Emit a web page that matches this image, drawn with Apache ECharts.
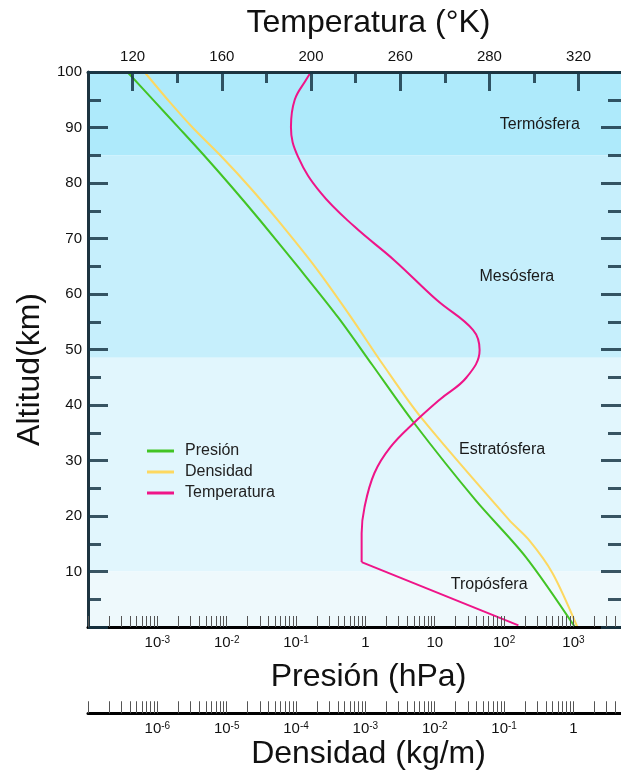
<!DOCTYPE html>
<html><head><meta charset="utf-8">
<script src="https://cdn.jsdelivr.net/npm/echarts@6/dist/echarts.min.js"></script>
<style>html,body{margin:0;padding:0;background:#fff}#c{width:621px;height:771px}</style>
</head><body><div id="c"></div>
<script>
// ---- data ----
const ALTITUDE_P = [0, 12.6, 22.9, 36.8, 47.2, 55.7, 64.7, 73.2, 79.1, 85, 89.9, 94.7, 100];
const PRESSURE_HPA = [1050, 206, 38.5, 5.0, 1.26, 0.41, 0.11, 0.0306, 0.0122, 0.0047, 0.00206, 0.00091, 0.00037];

const ALTITUDE_D = [0, 9.7, 15.7, 19.3, 37.8, 47.2, 55.7, 64.7, 73.2, 79.1, 84.9, 89.9, 94.7, 100];
const DENSITY = [1.14, 0.5, 0.228, 0.118, 6.3e-3, 1.81e-3, 6.3e-4, 1.93e-4, 5.53e-5, 2.2e-5, 8.2e-6, 3.27e-6, 1.48e-6, 6.52e-7];

const ALTITUDE_T_UPPER = [100, 98.6, 95, 90.1, 84.7, 78.2, 72.1, 66.1, 58.9, 53.5, 49.9, 45, 41, 36.8, 32.4, 27.7, 21.6, 16.9, 11.7];
const TEMPERATURE_UPPER = [200, 197.8, 192.7, 191.0, 194.2, 204.4, 219.6, 237.3, 256.4, 272.7, 275.6, 269.8, 257.8, 246.2, 235.6, 228.4, 224, 222.7, 222.7];
const ALTITUDE_T_LOWER = [11.7, 0.3];
const TEMPERATURE_LOWER = [222.7, 293];

const ZONE_NAMES = ['Termósfera', 'Mesósfera', 'Estratósfera', 'Tropósfera'];
const ZONE_BOTTOM = [85, 48.5, 10, 0];
const ZONE_TOP = [100, 85, 48.5, 10];
const ZONE_COLORS = ['#aeeafb', '#c6effc', '#e1f6fd', '#eef9fc'];
const ZONE_LABEL_P = [327, 153, 93.6, 61];
const ZONE_LABEL_ALT = [90.6, 63.1, 31.9, 7.6];

const TEMP_TICKS = [120, 160, 200, 240, 280, 320];
const TEMP_TICK_LABELS = ['120', '160', '200', '260', '280', '320'];
const TEMP_MINOR_TICKS = [140, 180, 220, 260, 300];

const P_MIN = 1e-4, P_MAX = 4853;
const D_MIN = 1e-7, D_MAX = 4.853;
const T_MIN = 100, T_MAX = 339;

// ---- helpers ----
const FONT = '"Liberation Sans", Arial, sans-serif';
function zip(xs, ys) { return xs.map((x, i) => [x, ys[i]]); }
function logTickPositions(lo, hi) {
  const out = [];
  for (let n = Math.floor(lo); n <= Math.ceil(hi); n++) {
    for (let k = 1; k <= 9; k++) {
      const v = n + Math.log10(k);
      if (v >= lo - 1e-9 && v <= hi + 1e-9) out.push(v);
    }
  }
  return out;
}
function powLabel(v) {
  const e = Math.round(Math.log10(v));
  if (e === 0) return '1';
  if (e === 1) return '10';
  return '10{sup|' + e + '}';
}
const richSup = {
  sup: { fontSize: 10, fontFamily: FONT, color: '#111', verticalAlign: 'top', lineHeight: 10, padding: [0, 0, 6, 0] }
};
const DARK = '#1d3440';
const TICK = 'rgba(25,55,70,0.85)';

const chart = echarts.init(document.getElementById('c'), null, { renderer: 'canvas' });

const option = {
  backgroundColor: '#ffffff',
  animation: false,
  textStyle: { fontFamily: FONT },
  grid: [
    { left: 88, right: -5, top: 72, bottom: 144 },
    { left: 88, right: -5, top: 713, height: 1 }
  ],
  legend: {
    data: ['Presión', 'Densidad', 'Temperatura'],
    orient: 'vertical', left: 147, top: 443, padding: 0,
    icon: 'rect', itemWidth: 27, itemHeight: 3, itemGap: 5,
    selectedMode: false,
    textStyle: { fontSize: 16, color: '#222', fontFamily: FONT, padding: [0, 0, 0, 6] }
  },
  xAxis: [
    { // 0 pressure (log)
      gridIndex: 0, type: 'log', logBase: 10, position: 'bottom', min: P_MIN, max: P_MAX, z: 5,
      axisLine: { show: true, onZero: false, lineStyle: { color: '#000', width: 3 } },
      axisTick: { show: false }, splitLine: { show: false },
      axisLabel: { showMinLabel: false, showMaxLabel: false, margin: 8, fontSize: 15, color: '#111', fontFamily: FONT, formatter: powLabel, rich: richSup },
      name: 'Presión (hPa)', nameLocation: 'middle', nameGap: 34,
      nameTextStyle: { fontSize: 32, color: '#111', fontFamily: FONT, padding: [0, 0, 0, 28] }
    },
    { // 1 pressure tick overlay (decade space)
      gridIndex: 0, type: 'value', position: 'bottom', min: Math.log10(P_MIN), max: Math.log10(P_MAX), z: 5,
      axisLine: { show: false, onZero: false }, axisLabel: { show: false }, splitLine: { show: false },
      axisTick: { show: true, inside: true, length: 11, customValues: logTickPositions(Math.log10(P_MIN), Math.log10(P_MAX)), lineStyle: { color: '#555', width: 1 } }
    },
    { // 2 temperature
      gridIndex: 0, type: 'value', position: 'top', min: T_MIN, max: T_MAX, z: 5,
      axisLine: { show: true, onZero: false, lineStyle: { color: DARK, width: 3 } },
      axisTick: { show: true, inside: true, length: 19, customValues: TEMP_TICKS, lineStyle: { color: TICK, width: 3 } },
      axisLabel: { customValues: TEMP_TICKS, margin: 8, fontSize: 15, color: '#111', fontFamily: FONT,
        formatter: v => TEMP_TICK_LABELS[TEMP_TICKS.indexOf(v)] },
      splitLine: { show: false },
      name: 'Temperatura (°K)', nameLocation: 'middle', nameGap: 33,
      nameTextStyle: { fontSize: 32, color: '#111', fontFamily: FONT, padding: [0, 0, 0, 28] }
    },
    { // 3 temperature minor ticks
      gridIndex: 0, type: 'value', position: 'top', min: T_MIN, max: T_MAX, z: 5,
      axisLine: { show: false, onZero: false }, axisLabel: { show: false }, splitLine: { show: false },
      axisTick: { show: true, inside: true, length: 11, customValues: TEMP_MINOR_TICKS, lineStyle: { color: TICK, width: 3 } }
    },
    { // 4 density data axis (hidden, same span as visible density axis)
      gridIndex: 0, type: 'log', logBase: 10, position: 'bottom', min: D_MIN, max: D_MAX, show: false
    },
    { // 5 density visible axis
      gridIndex: 1, type: 'log', logBase: 10, position: 'bottom', min: D_MIN, max: D_MAX, z: 5,
      axisLine: { show: true, onZero: false, lineStyle: { color: '#000', width: 3 } },
      axisTick: { show: false }, splitLine: { show: false },
      axisLabel: { showMinLabel: false, showMaxLabel: false, margin: 8, fontSize: 15, color: '#111', fontFamily: FONT, formatter: powLabel, rich: richSup },
      name: 'Densidad (kg/m)', nameLocation: 'middle', nameGap: 22,
      nameTextStyle: { fontSize: 32, color: '#111', fontFamily: FONT, padding: [0, 0, 0, 28] }
    },
    { // 6 density tick overlay
      gridIndex: 1, type: 'value', position: 'bottom', min: Math.log10(D_MIN), max: Math.log10(D_MAX), z: 5,
      axisLine: { show: false, onZero: false }, axisLabel: { show: false }, splitLine: { show: false },
      axisTick: { show: true, inside: true, length: 12, customValues: logTickPositions(Math.log10(D_MIN), Math.log10(D_MAX)), lineStyle: { color: '#555', width: 1 } }
    }
  ],
  yAxis: [
    { // 0 altitude
      gridIndex: 0, type: 'value', position: 'left', min: 0, max: 100, interval: 10, z: 5,
      axisLine: { show: true, onZero: false, lineStyle: { color: DARK, width: 3 } },
      axisTick: { show: true, inside: true, length: 20, lineStyle: { color: TICK, width: 3 } },
      minorTick: { show: true, splitNumber: 2, length: 13, lineStyle: { color: TICK, width: 3 } },
      axisLabel: { showMinLabel: false, margin: 6, fontSize: 15, color: '#111', fontFamily: FONT },
      splitLine: { show: false },
      name: 'Altitud(km)', nameLocation: 'middle', nameGap: 39, nameRotate: 90,
      nameTextStyle: { fontSize: 32, color: '#111', fontFamily: FONT, padding: [0, 40, 0, 0] }
    },
    { // 1 right-side ticks
      gridIndex: 0, type: 'value', position: 'right', min: 0, max: 100, interval: 10, z: 5,
      axisLine: { show: false, onZero: false }, axisLabel: { show: false }, splitLine: { show: false },
      axisTick: { show: true, inside: true, length: 20, lineStyle: { color: TICK, width: 3 } },
      minorTick: { show: true, splitNumber: 2, length: 13, lineStyle: { color: TICK, width: 3 } }
    },
    { gridIndex: 1, type: 'value', show: false, min: 0, max: 1 }
  ],
  series: [
    {
      name: 'Zonas', type: 'scatter', xAxisIndex: 0, yAxisIndex: 0, symbolSize: 0, z: 1, silent: true,
      itemStyle: { opacity: 1 },
      data: ZONE_NAMES.map((n, i) => ({ value: [ZONE_LABEL_P[i], ZONE_LABEL_ALT[i]], name: n })),
      label: { show: true, position: 'inside', formatter: p => p.name, fontSize: 16, color: '#1a1a1a', fontFamily: FONT, opacity: 1 },
      markArea: {
        silent: true,
        data: ZONE_NAMES.map((n, i) => [
          { yAxis: ZONE_BOTTOM[i], itemStyle: { color: ZONE_COLORS[i], opacity: 1 } },
          { yAxis: ZONE_TOP[i] }
        ])
      }
    },
    {
      name: 'Presión', type: 'line', xAxisIndex: 0, yAxisIndex: 0, showSymbol: false, symbol: 'none',
      smooth: 0.3, z: 3, color: '#42c424', lineStyle: { width: 2, color: '#42c424' },
      data: zip(PRESSURE_HPA, ALTITUDE_P)
    },
    {
      name: 'Densidad', type: 'line', xAxisIndex: 4, yAxisIndex: 0, showSymbol: false, symbol: 'none',
      smooth: 0.3, z: 3, color: '#fdd860', lineStyle: { width: 2, color: '#fdd860' },
      data: zip(DENSITY, ALTITUDE_D)
    },
    {
      name: 'Temperatura', type: 'line', xAxisIndex: 2, yAxisIndex: 0, showSymbol: false, symbol: 'none',
      smooth: 0.4, z: 3, color: '#ef1488', lineStyle: { width: 2, color: '#ef1488' },
      data: zip(TEMPERATURE_UPPER, ALTITUDE_T_UPPER)
    },
    {
      name: 'Temperatura', type: 'line', xAxisIndex: 2, yAxisIndex: 0, showSymbol: false, symbol: 'none',
      smooth: false, z: 3, color: '#ef1488', lineStyle: { width: 2, color: '#ef1488' },
      data: zip(TEMPERATURE_LOWER, ALTITUDE_T_LOWER)
    }
  ]
};
chart.setOption(option);
</script>
</body></html>
